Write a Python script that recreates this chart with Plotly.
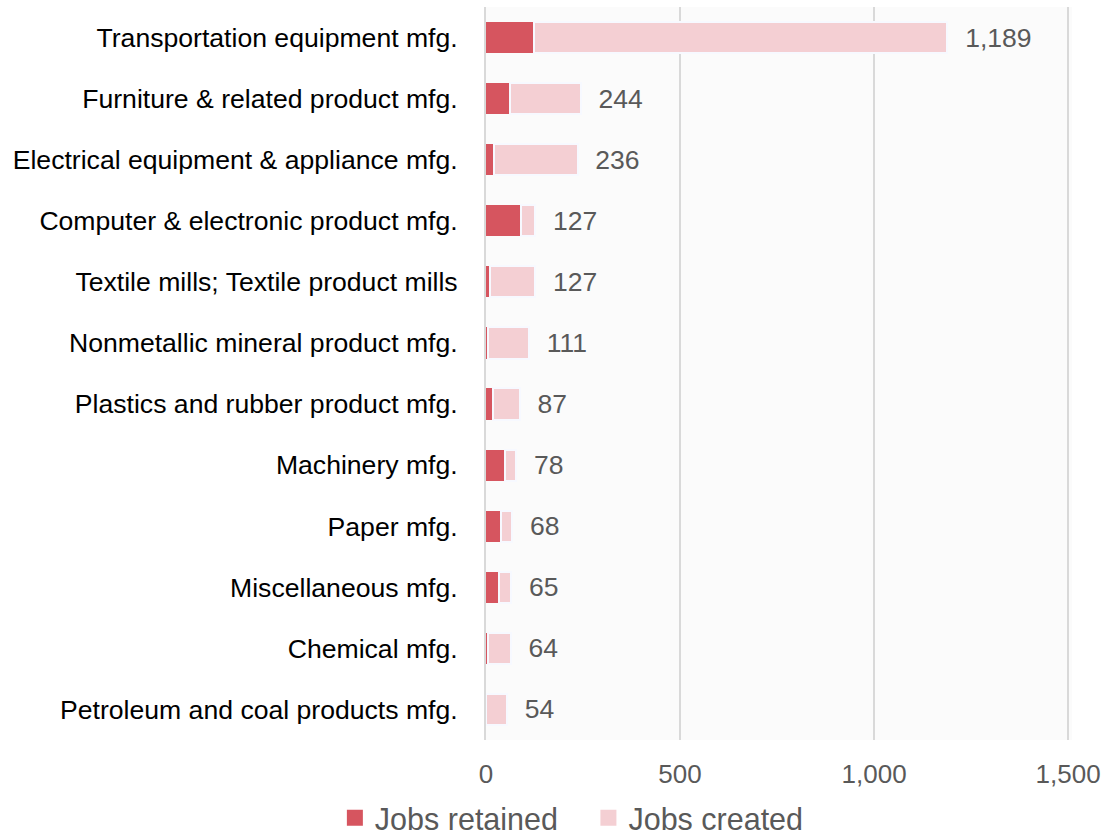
import plotly.graph_objects as go

categories = [
    "Transportation equipment mfg.",
    "Furniture & related product mfg.",
    "Electrical equipment & appliance mfg.",
    "Computer & electronic product mfg.",
    "Textile mills; Textile product mills",
    "Nonmetallic mineral product mfg.",
    "Plastics and rubber product mfg.",
    "Machinery mfg.",
    "Paper mfg.",
    "Miscellaneous mfg.",
    "Chemical mfg.",
    "Petroleum and coal products mfg.",
]
totals = [1189, 244, 236, 127, 127, 111, 87, 78, 68, 65, 64, 54]
jobs_retained = [123, 62, 21, 90, 10, 4, 17, 49, 38, 33, 4, 1]
jobs_created = [t - r for t, r in zip(totals, jobs_retained)]
total_labels = [f"{t:,}" for t in totals]
x_ticks = [0, 500, 1000, 1500]
legend_names = ["Jobs retained", "Jobs created"]

FONT = "Liberation Sans, Arial, sans-serif"
RED = "#d6555f"
PINK = "#f4cfd3"
NB = "\u00a0"

fig = go.Figure()
fig.add_trace(go.Bar(
    y=categories, x=jobs_retained, orientation="h", name=legend_names[0],
    marker=dict(color=RED, line=dict(width=0)), showlegend=False,
))
fig.add_trace(go.Bar(
    y=categories, x=jobs_created, orientation="h", name=legend_names[1],
    marker=dict(color=PINK, line=dict(color="#f7f9ff", width=2)),
    text=total_labels, textposition="outside",
    texttemplate="  %{text}",
    textfont=dict(family=FONT, size=26.5, color="#595959"),
    cliponaxis=False, showlegend=False,
))
# legend entries with larger square swatches
for nm, col, pad in [(legend_names[0], RED, NB * 3), (legend_names[1], PINK, "")]:
    fig.add_trace(go.Scatter(
        x=[None], y=[None], mode="markers", name=nm + pad,
        marker=dict(symbol="square", size=19, color=col),
        showlegend=True,
    ))

fig.update_layout(
    barmode="stack",
    bargap=0.49,
    width=1104, height=839,
    paper_bgcolor="white",
    plot_bgcolor="#fbfbfb",
    margin=dict(l=486, r=32, t=7, b=99, autoexpand=False),
    font=dict(family=FONT, color="#595959"),
    showlegend=True,
    legend=dict(
        orientation="h", xref="container", x=0.518, xanchor="center",
        yref="container", y=0.025, yanchor="middle",
        font=dict(size=30.5, color="#595959"),
        traceorder="normal",
        itemwidth=30,
        bgcolor="rgba(0,0,0,0)",
    ),
    xaxis=dict(
        range=[0, 1510], tickvals=x_ticks, tickformat=",",
        showgrid=True, gridcolor="#d9d9d9", gridwidth=1.5,
        zeroline=False, showline=False, automargin=False,
        tickfont=dict(size=26, color="#595959"),
        ticks="", ticklabelstandoff=16,
    ),
    yaxis=dict(
        categoryorder="array", categoryarray=categories[::-1],
        showline=True, linecolor="#d9d9d9", linewidth=2, automargin=False,
        tickfont=dict(size=26.6, color="black"),
        ticks="", ticklabelstandoff=21,
    ),
)

fig.write_html(
    "out.html",
    config={"displayModeBar": False},
    post_script="document.body.style.margin='0';document.body.style.overflow='hidden';",
)
